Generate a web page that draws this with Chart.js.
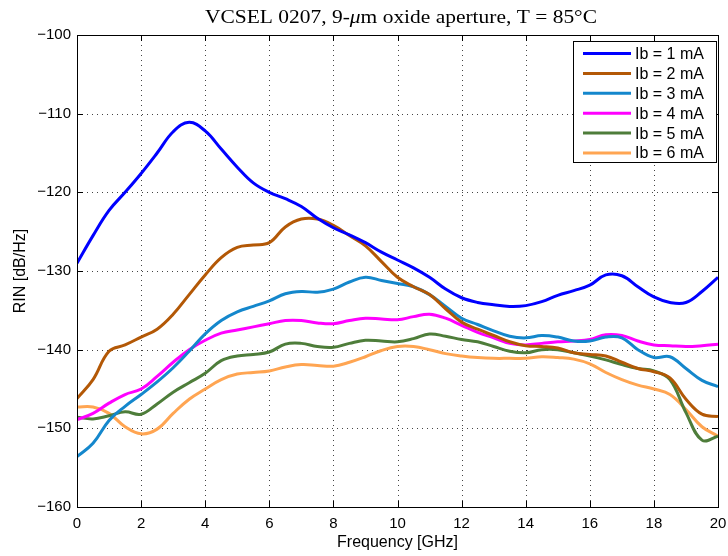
<!DOCTYPE html>
<html>
<head>
<meta charset="utf-8">
<script src="https://cdn.jsdelivr.net/npm/chart.js@4"></script>
<style>
html,body{margin:0;padding:0;background:#fff;}
#wrap{width:728px;height:556px;position:relative;}
</style>
</head>
<body>
<div id="wrap"><canvas id="c" width="728" height="556"></canvas></div>
<script>
const freq = [0,0.5,1,1.5,2,2.5,3,3.5,4,4.5,5,5.5,6,6.5,7,7.5,8,8.5,9,9.5,10,10.5,11,11.5,12,12.5,13,13.5,14,14.5,15,15.5,16,16.5,17,17.5,18,18.5,19,19.5,20];
const seriesLabels = ['Ib = 1 mA','Ib = 2 mA','Ib = 3 mA','Ib = 4 mA','Ib = 5 mA','Ib = 6 mA'];
const rin1 = [-129,-125.5,-122.3,-120,-117.6,-115,-112.3,-111.1,-112.2,-114.5,-116.8,-118.8,-120,-120.8,-121.8,-123.3,-124.5,-125.4,-126.4,-127.6,-128.6,-129.6,-130.8,-132.3,-133.4,-134,-134.3,-134.5,-134.4,-133.9,-133.1,-132.5,-131.8,-130.5,-130.6,-132,-133.3,-134,-134,-132.6,-130.8];
const rin2 = [-146.2,-143.8,-140.2,-139.4,-138.4,-137.4,-135.5,-133,-130.5,-128.3,-127,-126.7,-126.4,-124.4,-123.4,-123.4,-124.2,-125.5,-126.8,-128.8,-130.8,-132,-133,-134.8,-136.5,-137.4,-138.2,-139,-139.5,-139.6,-139.8,-140.4,-140.6,-140.8,-141.6,-142.4,-142.8,-143.6,-146.3,-148.2,-148.5];
const rin3 = [-153.6,-151.9,-149,-147.2,-145.7,-144.1,-142.3,-140.2,-138,-136.3,-135.2,-134.5,-133.8,-132.9,-132.6,-132.7,-132.3,-131.4,-130.8,-131.2,-131.6,-132,-133,-134.5,-136,-136.8,-137.6,-138.3,-138.5,-138.2,-138.4,-138.9,-138.9,-138.4,-138.5,-140,-141,-140.9,-142.4,-143.9,-144.7];
const rin4 = [-148.9,-148.1,-146.8,-145.7,-145,-143.4,-141.6,-140,-138.8,-137.9,-137.5,-137.1,-136.7,-136.3,-136.3,-136.6,-136.7,-136.3,-136,-136.1,-136.2,-135.8,-135.5,-136,-136.9,-137.8,-138.5,-139.2,-139.4,-139.2,-139,-138.9,-138.7,-138.1,-138.2,-138.9,-139.4,-139.5,-139.6,-139.5,-139.3];
const rin5 = [-148.6,-148.8,-148.4,-147.9,-148.2,-146.9,-145.4,-144.2,-143,-141.4,-140.8,-140.6,-140.3,-139.3,-139.2,-139.6,-139.7,-139.2,-138.8,-138.9,-139,-138.6,-138,-138.3,-138.7,-139,-139.6,-140.2,-140.4,-140,-140,-140.4,-140.8,-141.3,-141.9,-142.4,-142.7,-143.8,-148,-151.5,-151];
const rin6 = [-147.3,-147.3,-148.1,-149.8,-150.7,-150.1,-148.1,-146.3,-145,-143.8,-143.1,-142.9,-142.7,-142.2,-141.9,-142,-142.1,-141.6,-140.9,-140.1,-139.6,-139.6,-140,-140.5,-140.8,-141,-141.1,-141.1,-141.1,-140.9,-141,-141.2,-141.8,-142.9,-143.8,-144.5,-145,-145.7,-147.6,-149.8,-151];
const xTicks = [0,2,4,6,8,10,12,14,16,18,20];
const yTicks = [-160,-150,-140,-130,-120,-110,-100];
const colors = ['#0000ff','#b35806','#1487cc','#ff00ff','#4e7d3a','#ffa552'];

const allSeries = [rin1,rin2,rin3,rin4,rin5,rin6];
const datasets = allSeries.map((s,i)=>({
  label: seriesLabels[i],
  data: s.map((v,j)=>({x:freq[j], y:v})),
  borderColor: colors[i],
  backgroundColor: colors[i],
  borderWidth: 3,
  pointRadius: 0,
  tension: 0.4,
  fill: false
}));

const framePlugin = {
  id:'frame',
  beforeDatasetsDraw(chart){
    const {ctx, chartArea:a, scales} = chart;
    ctx.save();
    ctx.strokeStyle='#444';
    ctx.lineWidth=1;
    ctx.setLineDash([1,4]);
    ctx.beginPath();
    xTicks.slice(1,-1).forEach(t=>{
      const px=Math.round(scales.x.getPixelForValue(t))+0.5;
      ctx.moveTo(px,a.top); ctx.lineTo(px,a.bottom);
    });
    yTicks.slice(1,-1).forEach(t=>{
      const py=Math.round(scales.y.getPixelForValue(t))+0.5;
      ctx.moveTo(a.left,py); ctx.lineTo(a.right,py);
    });
    ctx.stroke();
    ctx.restore();
  },
  afterDatasetsDraw(chart){
    const {ctx, chartArea:a, scales} = chart;
    ctx.save();
    ctx.strokeStyle='#000';
    ctx.lineWidth=1;
    ctx.beginPath();
    xTicks.forEach(t=>{
      const px=Math.round(scales.x.getPixelForValue(t))+0.5;
      ctx.moveTo(px,a.bottom); ctx.lineTo(px,a.bottom-6);
      ctx.moveTo(px,a.top); ctx.lineTo(px,a.top+6);
    });
    yTicks.forEach(t=>{
      const py=Math.round(scales.y.getPixelForValue(t))+0.5;
      ctx.moveTo(a.left,py); ctx.lineTo(a.left+6,py);
      ctx.moveTo(a.right,py); ctx.lineTo(a.right-6,py);
    });
    ctx.stroke();
    ctx.strokeRect(Math.round(a.left)+0.5, Math.round(a.top)+0.5, Math.round(a.right-a.left), Math.round(a.bottom-a.top));
    // legend
    const lx=573.5, ly=41.5, lw=143, lh=121;
    ctx.fillStyle='#fff';
    ctx.fillRect(lx,ly,lw,lh);
    ctx.strokeRect(lx,ly,lw,lh);
    ctx.font='16px "Liberation Sans", Arial, sans-serif';
    ctx.textBaseline='middle';
    ctx.textAlign='left';
    chart.data.datasets.forEach((d,i)=>{
      const yy=53.5+i*19.9;
      ctx.strokeStyle=d.borderColor;
      ctx.lineWidth=3;
      ctx.beginPath(); ctx.moveTo(583,yy); ctx.lineTo(631,yy); ctx.stroke();
      ctx.fillStyle='#000';
      ctx.fillText(d.label,635,yy+1);
    });
    // title
    const parts=[['VCSEL 0207, 9-',''],['\u03bc','italic '],['m oxide aperture, T = 85\u00b0C','']];
    const fam='19px "Liberation Serif", "Times New Roman", serif';
    let tw=0;
    parts.forEach(p=>{ctx.font=p[1]+fam; tw+=ctx.measureText(p[0]).width;});
    const target=392, sx=target/tw;
    ctx.translate(401-target/2,23);
    ctx.scale(sx,1);
    let x=0;
    ctx.fillStyle='#000';
    ctx.textBaseline='alphabetic';
    parts.forEach(p=>{ctx.font=p[1]+fam; ctx.fillText(p[0],x,0); x+=ctx.measureText(p[0]).width;});
    ctx.restore();
  }
};

new Chart(document.getElementById('c'),{
  type:'line',
  data:{datasets},
  plugins:[framePlugin],
  options:{
    responsive:false,
    animation:false,
    layout:{padding:{top:35,right:10,left:0,bottom:0}},
    plugins:{legend:{display:false},title:{display:false},tooltip:{enabled:false}},
    scales:{
      x:{
        type:'linear',min:0,max:20,
        afterBuildTicks(s){s.ticks=xTicks.map(v=>({value:v}));},
        afterFit(s){s.height=49; s.paddingLeft=0; s.paddingRight=0;},
        grid:{display:false,drawTicks:false},
        border:{display:false},
        ticks:{padding:8,color:'#000',font:{family:'"Liberation Sans", Arial, sans-serif',size:15},maxRotation:0,callback:v=>String(v)},
        title:{display:true,text:'Frequency [GHz]',color:'#000',font:{family:'"Liberation Sans", Arial, sans-serif',size:16},padding:{top:0,bottom:4}}
      },
      y:{
        type:'linear',min:-160,max:-100,
        afterBuildTicks(s){s.ticks=yTicks.map(v=>({value:v}));},
        afterFit(s){s.width=77; s.paddingTop=0; s.paddingBottom=0;},
        grid:{display:false,drawTicks:false},
        border:{display:false},
        ticks:{padding:6,color:'#000',font:{family:'"Liberation Sans", Arial, sans-serif',size:15},callback:v=>'\u2212'+Math.abs(v)},
        title:{display:true,text:'RIN [dB/Hz]',color:'#000',font:{family:'"Liberation Sans", Arial, sans-serif',size:16},padding:{top:11,bottom:0}}
      }
    }
  }
});
</script>
</body>
</html>
